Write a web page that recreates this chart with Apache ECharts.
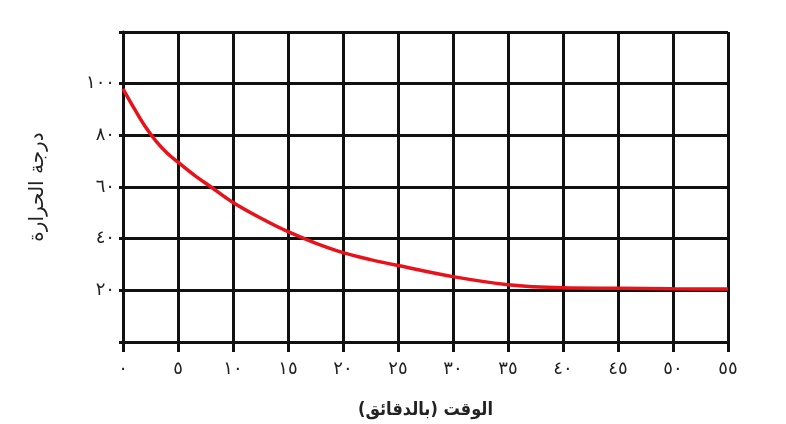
<!DOCTYPE html>
<html>
<head>
<meta charset="utf-8">
<script src="https://cdn.jsdelivr.net/npm/echarts@6/dist/echarts.min.js"></script>
<style>html,body{margin:0;padding:0;background:#fff;}#c{width:786px;height:424px;}</style>
</head>
<body>
<div id="c"></div>
<script>
// Data
const timeMin = [0, 1, 2, 3, 4, 5, 6.5, 8, 10, 12.5, 15, 17.5, 20, 22.5, 25, 30, 35, 40, 45, 50, 55];
const temperature = [98, 90.5, 83.5, 77.8, 73.2, 69.6, 64.5, 60, 54, 48, 42.7, 38.3, 34.6, 31.9, 29.6, 25.3, 22.2, 21, 20.8, 20.6, 20.5];
const xTickLabels = {0:'٠',5:'٥',10:'١٠',15:'١٥',20:'٢٠',25:'٢٥',30:'٣٠',35:'٣٥',40:'٤٠',45:'٤٥',50:'٥٠',55:'٥٥'};
const yTickLabels = {20:'٢٠',40:'٤٠',60:'٦٠',80:'٨٠',100:'١٠٠'};
const xTitle = 'الوقت (بالدقائق)';
const yTitle = 'درجة الحرارة';

const chart = echarts.init(document.getElementById('c'), null, {renderer:'canvas'});
const black = '#111';
chart.setOption({
  backgroundColor: '#fff',
  animation: false,
  grid: {left: 123, right: 58, top: 32, bottom: 73, containLabel: false},
  xAxis: {
    type: 'value', min: 0, max: 55, interval: 5,
    name: xTitle, nameLocation: 'middle', nameGap: 59,
    nameTextStyle: {fontFamily: 'DejaVu Sans Condensed, DejaVu Sans', fontSize: 18, fontWeight: 'bold', color: '#222'},
    axisLine: {show: true, lineStyle: {color: black, width: 3}},
    axisTick: {show: true, length: 10, lineStyle: {color: black, width: 3}},
    axisLabel: {margin: 18, fontFamily: 'DejaVu Sans', fontSize: 18, color: '#222',
      formatter: v => xTickLabels[v] !== undefined ? xTickLabels[v] : ''},
    splitLine: {show: true, lineStyle: {color: black, width: 3}}
  },
  yAxis: {
    type: 'value', min: 0, max: 120, interval: 20,
    name: yTitle, nameLocation: 'middle', nameGap: 75, nameRotate: 90,
    nameTextStyle: {fontFamily: 'DejaVu Sans', fontSize: 20, color: '#222'},
    axisLine: {show: true, lineStyle: {color: black, width: 3}},
    axisTick: {show: true, length: 4, lineStyle: {color: black, width: 3}},
    axisLabel: {margin: 8, fontFamily: 'DejaVu Sans', fontSize: 18, color: '#222',
      formatter: v => yTickLabels[v] !== undefined ? yTickLabels[v] : ''},
    splitLine: {show: true, lineStyle: {color: black, width: 3}}
  },
  series: [{
    type: 'line', smooth: 0.35, symbol: 'none',
    data: timeMin.map((t, i) => [t, temperature[i]]),
    lineStyle: {color: '#e8121b', width: 3.5}
  }]
});
</script>
</body>
</html>
